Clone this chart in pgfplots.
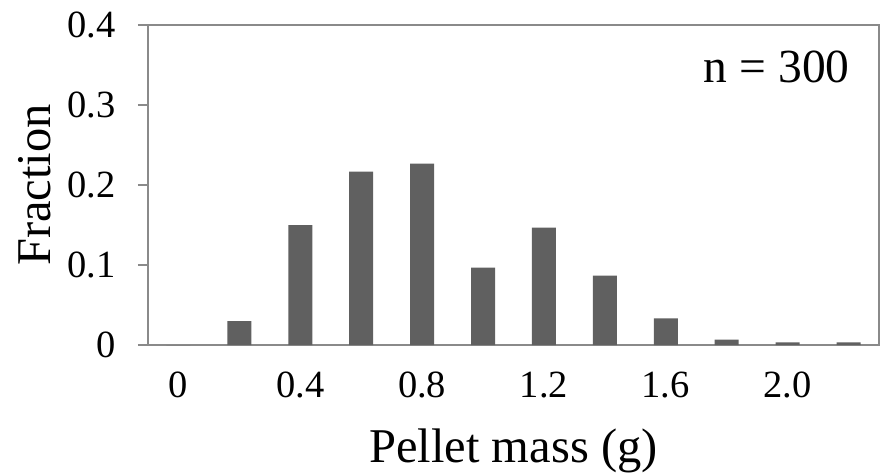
\documentclass[border=0pt]{standalone}
\usepackage{fontspec}
\setmainfont{Liberation Serif}
\usepackage{pgfplots}
\pgfplotsset{compat=1.18}

\definecolor{axisgray}{HTML}{8A8A8A}
\definecolor{bargray}{HTML}{606060}

\begin{document}
\begin{tikzpicture}
\begin{axis}[
  scale only axis,
  width=731pt, height=320pt,
  xmin=-0.5, xmax=11.5,
  ymin=0, ymax=0.4,
  axis line style={axisgray, line width=1.6pt},
  xtick={0,2,4,6,8,10},
  xticklabels={0,0.4,0.8,1.2,1.6,2.0},
  major x tick style={draw=none},
  ytick={0,0.1,0.2,0.3,0.4},
  yticklabels={0,0.1,0.2,0.3,0.4},
  tick align=outside,
  ytick pos=left,
  major tick length=10pt,
  major y tick style={axisgray, line width=1.6pt},
  /pgf/number format/assume math mode=true,
  tick label style={font=\fontsize{38.5}{42}\selectfont},
  xticklabel style={anchor=base, yshift=-42pt},
  yticklabel style={anchor=east, xshift=-19pt},
  xlabel={Pellet mass (g)},
  ylabel={Fraction},
  label style={font=\fontsize{48.5}{52}\selectfont},
  xlabel style={at={(axis description cs:0.5,-0.366)}, anchor=base},
  ylabel style={at={(axis description cs:-0.155,0.5)}, anchor=center},
  ybar, bar width=24pt,
]
\addplot[fill=bargray, draw=none] coordinates {
  (0,0) (1,0.030) (2,0.150) (3,0.2167) (4,0.2267) (5,0.0967)
  (6,0.1467) (7,0.0867) (8,0.0333) (9,0.0067) (10,0.0033) (11,0.0033)
};
\node[anchor=base east, font=\fontsize{47.5}{52}\selectfont]
  at (rel axis cs:0.9645,0.819) {n = 300};
\end{axis}
\pgfresetboundingbox
\path (current axis.south west) ++(-148pt,-127pt) rectangle ++(881pt,472pt);
\end{tikzpicture}
\end{document}
